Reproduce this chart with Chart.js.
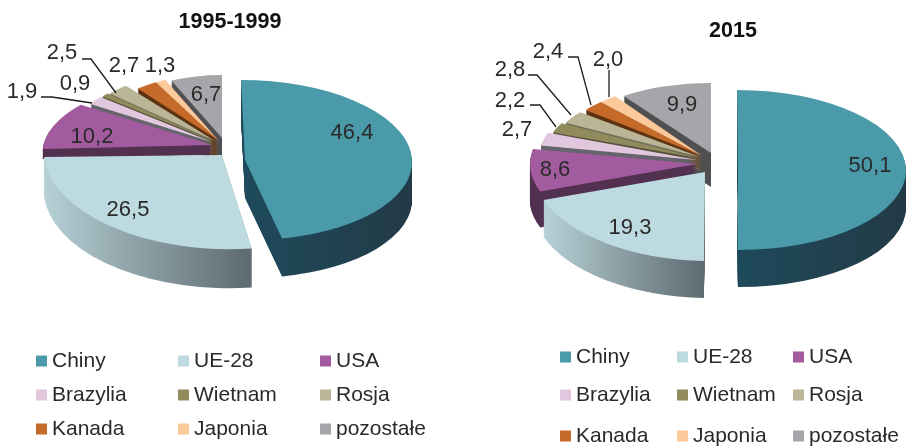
<!DOCTYPE html>
<html lang="pl">
<head>
<meta charset="utf-8">
<title>1995-1999 / 2015</title>
<script src="https://cdn.jsdelivr.net/npm/chart.js@4"></script>
<style>
html,body{margin:0;padding:0;background:#fff;overflow:hidden;width:906px;height:447px}
canvas{position:absolute;top:0}
#c1{left:0}
#c2{left:453px}
</style>
</head>
<body>
<canvas id="c1" width="453" height="447"></canvas>
<canvas id="c2" width="453" height="447"></canvas>
<script>
// ---- data ----
const categories = ['Chiny','UE-28','USA','Brazylia','Wietnam','Rosja','Kanada','Japonia','pozostałe'];
const values1995 = [46.4,26.5,10.2,1.9,0.9,2.5,2.7,1.3,6.7];
const values2015 = [50.1,19.3,8.6,2.7,2.2,2.8,2.4,2.0,9.9];
const title1995 = '1995-1999';
const title2015 = '2015';

// ---- styles ----
const topColors  = ['#4A9AA9','#BDDAE0','#A35BA0','#E2C8DF','#918A5C','#B9B596','#C66A2A','#FBC99A','#A6A6AA'];
const wallColors = [['#1E4A5B','#233A46'],['#B6D1D6','#5D6A70'],['#52304F','#52304F'],['#66646C','#66646C'],
                    ['#55503A','#55503A'],['#6F6C58','#6F6C58'],['#5E3312','#5E3312'],['#8F6F50','#8F6F50'],['#505053','#505053']];
const FONT = '"Liberation Sans", Arial, sans-serif';
const TEXT = '#2A2A2A';

// ---- per-slice 3D projection: apex x,y  half-axes a,b  shear k,m  wall depth ----
const proj1995 = [
  [245,160,167,80,0,.05,38],[222,155,178,94,.036,-.06,39],[212,145,168,72,.015,-.3,10],
  [212,142,143,72,0,0,12],[213,141,142,71,0,0,14],[215,141,142,71,0,0,20],
  [218,140,128,66,0,0,24],[218,140,128,66,0,0,26],[222,138,123,63,0,0,30]];
const proj2015 = [
  [738,170,168,80,0,.012,37],[705,172,172,89,.016,0,37],[697,164,167,80,0,0,36],
  [697,160,159,78,0,0,12],[698,158,155,73,0,0,12],[700,157,153,72,0,0,12],
  [701.5,155.5,148,73,0,0,14],[701.5,155.5,148,73,0,0,16],[711,153,150,70,0,0,34]];

// ---- annotation layout (page coordinates) ----
const labels1995 = [[352,133],[128,210],[92,137],[22,92],[75,84],[62,53],[124,66],[160,66],[206,95]];
const labels2015 = [[870,166],[630,228],[555,170],[517,130],[510,101],[510,70],[548,52],[608,60],[682,105]];
const leaders1995 = [[[41,97],[52,97],[92,103]],[[82,59],[91,59],[116,93]]];
const leaders2015 = [[[530,105],[540,105],[556,127]],[[528,75],[537,75],[571,115]],[[568,57],[578,57],[591,105]],[[609,70],[609,97]]];
const legendCols1995 = [36,178,320], legendRows1995 = [361,395,429];
const legendCols2015 = [560,677,793], legendRows2015 = [357,395,436];

const pie3d = {
  id:'pie3d',
  beforeDatasetsDraw(chart){
    const cfg = chart.options.plugins.pie3d, ctx = chart.ctx, ox = cfg.originX;
    const arcs = chart.getDatasetMeta(0).data;
    const place = (i,d) => {
      const arc = arcs[i], p = cfg.proj[i], R = arc.outerRadius, sx = p[2]/R, sy = p[3]/R;
      ctx.translate(p[0]-ox, p[1]+d);
      ctx.transform(sx, p[4]*sx, p[5]*sy, sy, 0, 0);
      ctx.translate(-arc.x, -arc.y);
    };
    // walls, back slices first
    const order = arcs.map((a,i)=>i).sort((u,v)=>{
      const mid = a => (a.startAngle+a.endAngle)/2;
      return Math.sin(mid(arcs[u])) - Math.sin(mid(arcs[v]));
    });
    order.forEach(i=>{
      const arc = arcs[i], R = arc.outerRadius, depth = cfg.proj[i][6];
      for(let d=depth; d>=1; d--){
        ctx.save();
        place(i,d);
        const xs=[Math.cos(arc.startAngle),Math.cos(arc.endAngle),0];
        for(let t=-Math.PI; t<=Math.PI*2; t+=Math.PI/2){ if(t>arc.startAngle&&t<arc.endAngle) xs.push(Math.cos(t)); }
        const g = ctx.createLinearGradient(arc.x+R*Math.min(...xs),0,arc.x+R*Math.max(...xs),0);
        g.addColorStop(0,wallColors[i][0]); g.addColorStop(1,wallColors[i][1]);
        ctx.fillStyle = g;
        ctx.beginPath();
        ctx.moveTo(arc.x,arc.y);
        ctx.arc(arc.x,arc.y,R,arc.startAngle,arc.endAngle);
        ctx.closePath();
        ctx.fill();
        ctx.restore();
      }
    });
    // top faces: the library's own arc elements
    arcs.forEach((arc,i)=>{ ctx.save(); place(i,0); arc.draw(ctx); ctx.restore(); });
    return false;
  },
  afterLayout(chart){
    const cfg = chart.options.plugins.pie3d, t = chart.titleBlock;
    t.left = cfg.titleX-cfg.originX-100; t.right = cfg.titleX-cfg.originX+100;
  },
  afterDraw(chart){
    const cfg = chart.options.plugins.pie3d, ctx = chart.ctx, ox = cfg.originX;
    const values = chart.data.datasets[0].data;
    ctx.save();
    ctx.textBaseline='middle'; ctx.textAlign='center';
    ctx.font='22px '+FONT; ctx.fillStyle=TEXT;
    values.forEach((v,i)=>{
      const q = cfg.labels[i];
      ctx.fillText(v.toFixed(1).replace('.',','), q[0]-ox, q[1]);
    });
    ctx.strokeStyle='#1E1E1E'; ctx.lineWidth=1.3;
    cfg.leaders.forEach(l=>{
      ctx.beginPath();
      l.forEach((q,j)=> j? ctx.lineTo(q[0]-ox,q[1]) : ctx.moveTo(q[0]-ox,q[1]));
      ctx.stroke();
    });
    // legend
    ctx.textAlign='left'; ctx.font='21px '+FONT;
    chart.data.labels.forEach((name,i)=>{
      const x = cfg.cols[i%3]-ox, y = cfg.rows[Math.floor(i/3)];
      ctx.fillStyle = topColors[i];
      ctx.fillRect(x,y-5.5,11,11);
      ctx.fillStyle = TEXT;
      ctx.fillText(name,x+16,y);
    });
    ctx.restore();
  }
};

function makePie(id,values,title,titleTop,extra){
  return new Chart(document.getElementById(id),{
    type:'pie',
    data:{labels:categories,datasets:[{data:values,backgroundColor:topColors,borderWidth:0}]},
    options:{
      responsive:false,animation:false,radius:170,
      events:[],
      plugins:{
        legend:{display:false},tooltip:{enabled:false},
        title:{display:true,text:title,color:'#111',font:{family:FONT,size:21.5,weight:'bold'},padding:{top:titleTop,bottom:0}},
        pie3d:extra
      }
    },
    plugins:[pie3d]
  });
}
makePie('c1',values1995,title1995,9,{originX:0,titleX:230,proj:proj1995,labels:labels1995,leaders:leaders1995,cols:legendCols1995,rows:legendRows1995});
makePie('c2',values2015,title2015,18,{originX:453,titleX:733,proj:proj2015,labels:labels2015,leaders:leaders2015,cols:legendCols2015,rows:legendRows2015});
</script>
</body>
</html>
